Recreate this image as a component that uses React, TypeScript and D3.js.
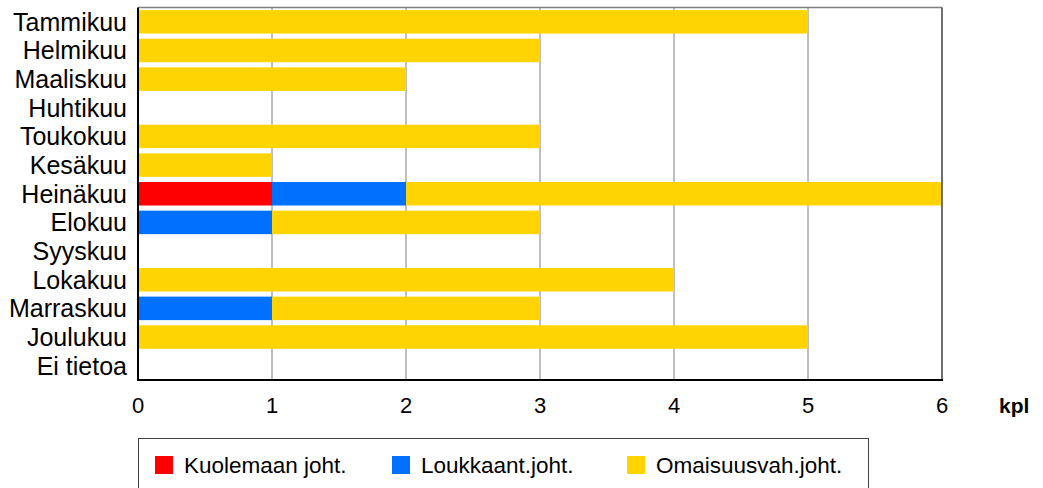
import React, { useRef, useEffect } from "react";
import * as d3 from "d3";

const months = [
  "Tammikuu", "Helmikuu", "Maaliskuu", "Huhtikuu", "Toukokuu", "Kesäkuu",
  "Heinäkuu", "Elokuu", "Syyskuu", "Lokakuu", "Marraskuu", "Joulukuu", "Ei tietoa",
];
const seriesNames = ["Kuolemaan joht.", "Loukkaant.joht.", "Omaisuusvah.joht."];
const kuolemaan = [0, 0, 0, 0, 0, 0, 1, 0, 0, 0, 0, 0, 0];
const loukkaant = [0, 0, 0, 0, 0, 0, 1, 1, 0, 0, 1, 0, 0];
const omaisuus = [5, 3, 2, 0, 3, 1, 4, 2, 0, 4, 2, 5, 0];
const xTicks = [0, 1, 2, 3, 4, 5, 6];
const colors = ["#FF0000", "#0070FF", "#FFD400"];

const W = 1043;
const H = 488;
const left = 138;
const right = 942;
const top = 7.5;
const bottom = 380;

export default function App() {
  const svgRef = useRef<SVGSVGElement>(null);

  useEffect(() => {
    if (!svgRef.current) return;
    const svg = d3.select(svgRef.current);
    svg.selectAll("*").remove();

    const rows = months.map((m, i) => ({
      month: m,
      k: kuolemaan[i],
      l: loukkaant[i],
      o: omaisuus[i],
    }));
    const stack = d3.stack<any>().keys(["k", "l", "o"])(rows);

    const x = d3.scaleLinear().domain([0, 6]).range([left, right]);
    const y = d3
      .scaleBand()
      .domain(months)
      .range([top, bottom])
      .paddingInner(0.18)
      .paddingOuter(0.09);

    // grid
    svg
      .append("g")
      .selectAll("line")
      .data(xTicks.slice(1, -1))
      .enter()
      .append("line")
      .attr("x1", (d) => x(d))
      .attr("x2", (d) => x(d))
      .attr("y1", top)
      .attr("y2", bottom)
      .attr("stroke", "#808080")
      .attr("stroke-width", 1);

    // bars
    stack.forEach((layer, si) => {
      svg
        .append("g")
        .attr("fill", colors[si])
        .selectAll("rect")
        .data(layer.filter((d) => d[1] - d[0] > 0))
        .enter()
        .append("rect")
        .attr("x", (d) => x(d[0]))
        .attr("width", (d) => x(d[1]) - x(d[0]))
        .attr("y", (d) => y(d.data.month)!)
        .attr("height", y.bandwidth());
    });

    // frame
    svg.append("line").attr("x1", left).attr("x2", right).attr("y1", top).attr("y2", top)
      .attr("stroke", "#808080").attr("stroke-width", 1.5);
    svg.append("line").attr("x1", right).attr("x2", right).attr("y1", top).attr("y2", bottom)
      .attr("stroke", "#404040").attr("stroke-width", 1.5);
    svg.append("line").attr("x1", left).attr("x2", left).attr("y1", top).attr("y2", bottom + 1)
      .attr("stroke", "#000").attr("stroke-width", 2);
    svg.append("line").attr("x1", left - 1).attr("x2", right + 1).attr("y1", bottom).attr("y2", bottom)
      .attr("stroke", "#000").attr("stroke-width", 2);

    const font = "Liberation Sans, Arial, sans-serif";

    // category labels
    svg
      .append("g")
      .selectAll("text")
      .data(months)
      .enter()
      .append("text")
      .attr("x", 127)
      .attr("y", (d) => y(d)! + y.bandwidth() / 2)
      .attr("dy", "0.36em")
      .attr("text-anchor", "end")
      .attr("font-family", font)
      .attr("font-size", 25)
      .attr("fill", "#000")
      .text((d) => d);

    // x tick labels
    svg
      .append("g")
      .selectAll("text")
      .data(xTicks)
      .enter()
      .append("text")
      .attr("x", (d) => x(d))
      .attr("y", 413)
      .attr("text-anchor", "middle")
      .attr("font-family", font)
      .attr("font-size", 22)
      .attr("fill", "#000")
      .text((d) => d);

    svg.append("text").attr("x", 999).attr("y", 413).attr("font-family", font)
      .attr("font-size", 21).attr("font-weight", "bold").text("kpl");

    // legend
    svg.append("rect").attr("x", 138.5).attr("y", 438.5).attr("width", 730).attr("height", 60)
      .attr("fill", "#fff").attr("stroke", "#404040").attr("stroke-width", 1);
    const legX = [155, 392, 627];
    seriesNames.forEach((name, i) => {
      svg.append("rect").attr("x", legX[i]).attr("y", 456).attr("width", 18).attr("height", 18)
        .attr("fill", colors[i]);
      svg.append("text").attr("x", legX[i] + 29).attr("y", 473).attr("font-family", font)
        .attr("font-size", 22.5).attr("fill", "#000").text(name);
    });
  }, []);

  return (
    <div style={{ position: "absolute", left: 0, top: 0 }}>
      <svg ref={svgRef} width={W} height={H} viewBox={`0 0 ${W} ${H}`} />
    </div>
  );
}
